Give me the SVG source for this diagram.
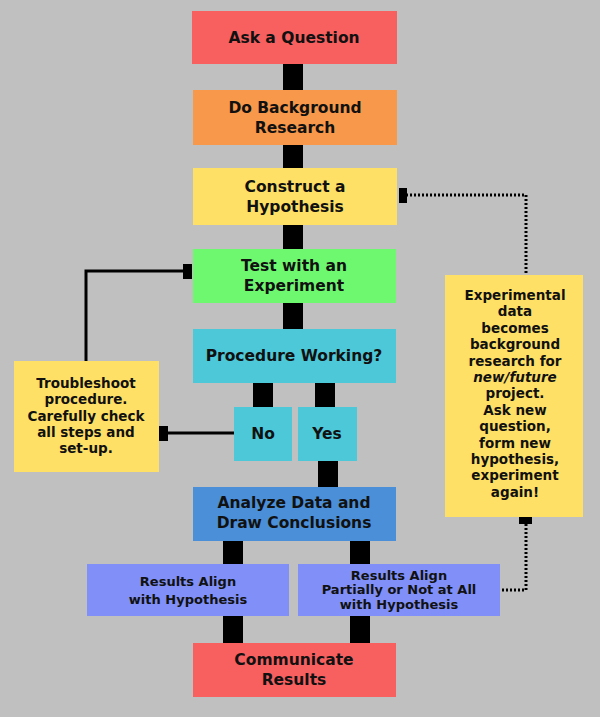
<svg xmlns="http://www.w3.org/2000/svg" width="600" height="717" viewBox="0 0 600 717">
<style>
text{font-family:"DejaVu Sans",Verdana,sans-serif;font-weight:bold;fill:#111;text-anchor:middle}
.t{font-size:15.5px}.s{font-size:13.5px}.r{font-size:13px}
.b{fill:#000}
.ln{stroke:#000;stroke-width:3;fill:none}
.dt{stroke:#000;stroke-width:3;fill:none;stroke-dasharray:2 2}
</style>
<rect width="600" height="717" fill="#c0c0c0"/>
<g id="connectors">
<rect class="b" x="283" y="64" width="20" height="26"/>
<rect class="b" x="283" y="145" width="20" height="23"/>
<rect class="b" x="283" y="225" width="20" height="24"/>
<rect class="b" x="283" y="303" width="20" height="26"/>
<rect class="b" x="253" y="383" width="20" height="24"/>
<rect class="b" x="315" y="383" width="20" height="24"/>
<rect class="b" x="318" y="461" width="20" height="26"/>
<rect class="b" x="223" y="541" width="20" height="23"/>
<rect class="b" x="350" y="541" width="20" height="23"/>
<rect class="b" x="223" y="616" width="20" height="27"/>
<rect class="b" x="350" y="616" width="20" height="27"/>
<polyline class="ln" points="86,361 86,271 186,271"/>
<rect class="b" x="183" y="264" width="9" height="15"/>
<line class="ln" x1="234" y1="433" x2="165" y2="433"/>
<rect class="b" x="159" y="426" width="9" height="15"/>
<polyline class="dt" points="406,195 526,195 526,275"/>
<rect class="b" x="399" y="188" width="8" height="15"/>
<polyline class="dt" points="526,524 526,590 502,590"/>
<rect class="b" x="519" y="517" width="13" height="7"/>
</g>
<g id="ask"><rect x="192" y="11" width="205" height="53" fill="#f86060"/><text class="t" x="294" y="43">Ask a Question</text></g>
<g id="research"><rect x="193" y="90" width="204" height="55" fill="#f8984a"/><text class="t" x="295" y="113">Do Background</text><text class="t" x="295" y="133">Research</text></g>
<g id="hypothesis"><rect x="193" y="168" width="204" height="57" fill="#ffe066"/><text class="t" x="295" y="192">Construct a</text><text class="t" x="295" y="212">Hypothesis</text></g>
<g id="test"><rect x="193" y="249" width="203" height="54" fill="#6ef870"/><text class="t" x="294" y="271">Test with an</text><text class="t" x="294" y="291">Experiment</text></g>
<g id="procedure"><rect x="193" y="329" width="203" height="54" fill="#4cc8d8"/><text class="t" x="294" y="361">Procedure Working?</text></g>
<g id="no"><rect x="234" y="407" width="58" height="54" fill="#4cc8d8"/><text class="t" x="263" y="439">No</text></g>
<g id="yes"><rect x="298" y="407" width="59" height="54" fill="#4cc8d8"/><text class="t" x="327" y="439">Yes</text></g>
<g id="troubleshoot"><rect x="14" y="361" width="145" height="111" fill="#ffe066"/><text class="s" x="86" y="388">Troubleshoot</text><text class="s" x="86" y="404">procedure.</text><text class="s" x="86" y="421">Carefully check</text><text class="s" x="86" y="437">all steps and</text><text class="s" x="86" y="453">set-up.</text></g>
<g id="analyze"><rect x="193" y="487" width="203" height="54" fill="#4a8fd8"/><text class="t" x="294" y="508">Analyze Data and</text><text class="t" x="294" y="528">Draw Conclusions</text></g>
<g id="align"><rect x="87" y="564" width="202" height="52" fill="#8090f8"/><text class="r" x="188" y="586">Results Align</text><text class="r" x="188" y="604">with Hypothesis</text></g>
<g id="partial"><rect x="298" y="564" width="202" height="52" fill="#8090f8"/><text class="r" x="399" y="580">Results Align</text><text class="r" x="399" y="594">Partially or Not at All</text><text class="r" x="399" y="609">with Hypothesis</text></g>
<g id="communicate"><rect x="193" y="643" width="203" height="54" fill="#f86060"/><text class="t" x="294" y="665">Communicate</text><text class="t" x="294" y="685">Results</text></g>
<g id="experimental"><rect x="445" y="275" width="138" height="242" fill="#ffe066"/>
<text class="s" x="515" y="300">Experimental</text><text class="s" x="515" y="316">data</text><text class="s" x="515" y="333">becomes</text><text class="s" x="515" y="349">background</text><text class="s" x="515" y="366">research for</text><text class="s" x="515" y="382" font-style="italic">new/future</text><text class="s" x="515" y="398">project.</text><text class="s" x="515" y="415">Ask new</text><text class="s" x="515" y="431">question,</text><text class="s" x="515" y="448">form new</text><text class="s" x="515" y="464">hypothesis,</text><text class="s" x="515" y="480">experiment</text><text class="s" x="515" y="497">again!</text></g>
</svg>
